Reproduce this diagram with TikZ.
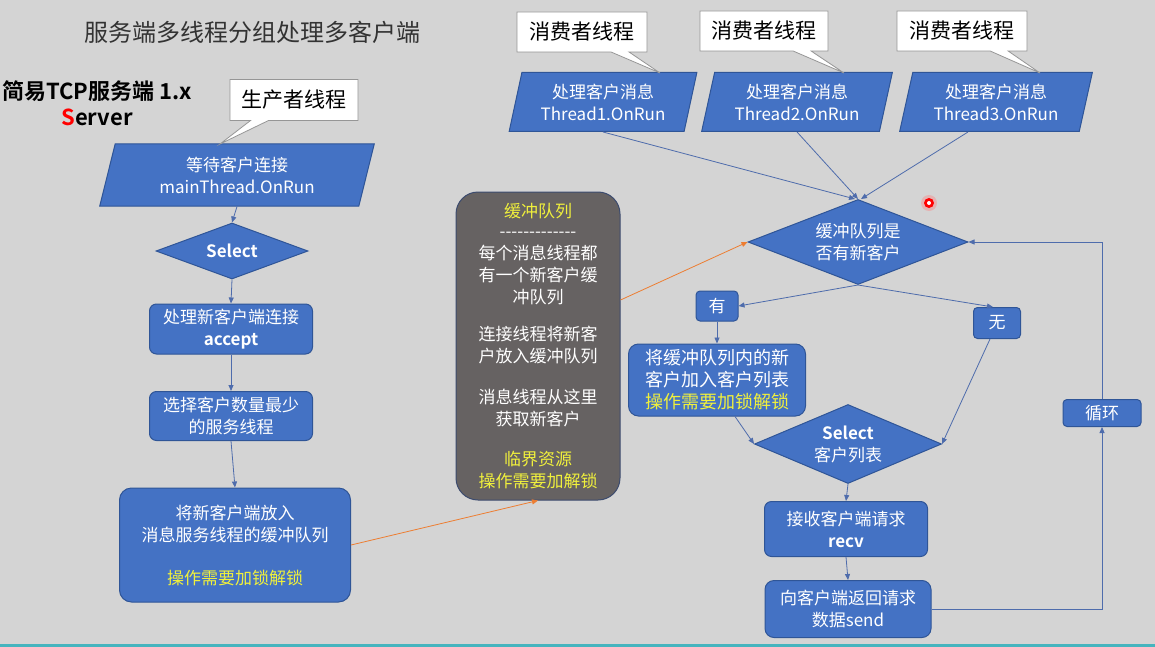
\documentclass[tikz,border=0pt]{standalone}
\usepackage{fontspec}
\setmainfont{Noto Sans CJK SC}[BoldFont={Noto Sans CJK SC Bold}]
\usetikzlibrary{shapes.geometric,shapes.callouts,arrows.meta}
\definecolor{bg}{RGB}{212,212,212}
\definecolor{blu}{RGB}{68,114,196}
\definecolor{bdr}{RGB}{47,85,151}
\definecolor{lnc}{RGB}{78,108,172}
\definecolor{orng}{RGB}{237,125,49}
\definecolor{ylw}{RGB}{240,240,60}
\definecolor{gbox}{RGB}{102,98,98}
\definecolor{gbdr}{RGB}{60,75,110}
\definecolor{cgray}{RGB}{150,150,150}
\definecolor{teal2}{RGB}{70,180,190}
\newcommand{\fsz}[1]{\fontsize{#1pt}{22pt}\selectfont}
\begin{document}
\begin{tikzpicture}[x=1pt,y=-1pt,
  box/.style={draw=bdr, line width=1pt, fill=blu, rounded corners=7pt, text=white, align=center, inner sep=0pt, font=\fsz{17}},
  para/.style={trapezium, trapezium left angle=75, trapezium right angle=105, trapezium stretches=true, draw=bdr, line width=1pt, fill=blu, text=white, align=center, inner sep=0pt, font=\fsz{17}},
  dia/.style={diamond, draw=bdr, line width=1pt, fill=blu, text=white, align=center, inner sep=0pt, font=\fsz{17}},
  call/.style={rectangle callout, draw=cgray, line width=0.8pt, fill=white, text=black, font=\fsz{21}, callout pointer width=18pt, inner sep=0pt},
  arr/.style={draw=lnc, line width=0.8pt, -{Triangle[width=5pt,length=6pt]}},
  oarr/.style={draw=orng, line width=0.8pt, -{Triangle[width=5pt,length=6pt]}}
]
\fill[bg] (0,0) rectangle (1155,647);
\useasboundingbox (0,0) rectangle (1155,647);
\fill[teal2] (0,644) rectangle (1155,647);

% titles
\node[font=\fsz{24}, text=black!80] (title) at (252,32) {服务端多线程分组处理多客户端};
\node[font=\bfseries\fsz{22}] (lt1) at (97,91) {简易TCP服务端 1.x};
\node[font=\bfseries\fsz{22}] (lt2) at (97,117) {{\color{red}S}erver};

% left column
\node[para, minimum width=275pt, minimum height=62pt] (p0) at (237,175) {等待客户连接\\mainThread.OnRun};
\coordinate (t0) at (220,144);
\node[call, minimum width=128pt, minimum height=41pt, callout absolute pointer={(t0)}] (cp) at (294,100) {生产者线程};
\node[dia, minimum width=152pt, minimum height=56pt, aspect=2.7, font=\bfseries\fsz{17}] (s0) at (232,251) {Select};
\node[box, minimum width=163pt, minimum height=50pt] (b1) at (231,329) {处理新客户端连接\\\textbf{accept}};
\node[box, minimum width=163pt, minimum height=49pt] (b2) at (231,416) {选择客户数量最少\\的服务线程};
\node[box, minimum width=231pt, minimum height=114pt, rounded corners=12pt] (b3) at (235,545) {将新客户端放入\\消息服务线程的缓冲队列\\[21pt]{\color{ylw}操作需要加锁解锁}};

% gray buffer box
\node[draw=gbdr, line width=1pt, fill=gbox, rounded corners=22pt, minimum width=164pt, minimum height=308pt, text=white, align=center, inner sep=0pt, font=\fsz{17}] (g) at (538,346)
 {{\color{ylw}缓冲队列}\\[-2pt]
  -{}-{}-{}-{}-{}-{}-{}-{}-{}-{}-{}-{}-\\
  每个消息线程都\\有一个新客户缓\\冲队列\\[15pt]
  连接线程将新客\\户放入缓冲队列\\[19pt]
  消息线程从这里\\获取新客户\\[18pt]
  {\color{ylw}临界资源}\\{\color{ylw}操作需要加解锁}};

% consumer threads
\node[para, minimum width=188pt, minimum height=59pt] (p1) at (603,102) {处理客户消息\\Thread1.OnRun};
\node[para, minimum width=191pt, minimum height=59pt] (p2) at (797,102) {处理客户消息\\Thread2.OnRun};
\node[para, minimum width=193pt, minimum height=59pt] (p3) at (996,102) {处理客户消息\\Thread3.OnRun};
\coordinate (t1) at (660,73);
\coordinate (t2) at (844,73);
\coordinate (t3) at (1040,73);
\node[call, minimum width=130pt, minimum height=40pt, callout absolute pointer={(t1)}] (c1) at (582,32) {消费者线程};
\node[call, minimum width=128pt, minimum height=40pt, callout absolute pointer={(t2)}] (c2) at (764,31) {消费者线程};
\node[call, minimum width=130pt, minimum height=40pt, callout absolute pointer={(t3)}] (c3) at (962,31) {消费者线程};

% right flow
\node[dia, minimum width=220pt, minimum height=85pt, aspect=2.6] (d1) at (858,242) {缓冲队列是\\否有新客户};
\node[box, minimum width=42pt, minimum height=30pt, rounded corners=4pt] (you) at (717,306) {有};
\node[box, minimum width=47pt, minimum height=31pt, rounded corners=4pt] (wu) at (997,323) {无};
\node[box, minimum width=177pt, minimum height=72pt, rounded corners=10pt, font=\fsz{18}] (b4) at (717,380) {将缓冲队列内的新\\客户加入客户列表\\{\color{ylw}操作需要加锁解锁}};
\node[dia, minimum width=187pt, minimum height=79pt, aspect=2.37] (s1) at (848,444) {\textbf{Select}\\客户列表};
\node[box, minimum width=163pt, minimum height=55pt] (b5) at (846,529) {接收客户端请求\\\textbf{recv}};
\node[box, minimum width=166pt, minimum height=57pt, rounded corners=9pt] (b6) at (848,609) {向客户端返回请求\\数据send};
\node[box, minimum width=78pt, minimum height=27pt, rounded corners=4pt] (loop) at (1102,413) {循环};

% laser pointer dot
\fill[red!50, opacity=0.4] (929,203) circle (8pt);
\fill[red] (929,203) circle (5pt);
\fill[white] (929,203) circle (2pt);

% connectors left
\draw[arr] (p0.south) -- (s0.north);
\draw[arr] (s0.south) -- (b1.north);
\draw[arr] (b1.south) -- (b2.north);
\draw[arr] (b2.south) -- (b3.north);
\draw[oarr] (b3.east) -- (g.south);
\draw[oarr] ([yshift=46pt]g.east) -- (d1.west);

% connectors right
\draw[arr] (p1.south) -- ([xshift=-3pt]d1.north);
\draw[arr] (p2.south) -- (d1.north);
\draw[arr] ([xshift=-28pt]p3.south) -- ([xshift=3pt]d1.north);
\draw[arr] (d1.south) -- (you.east);
\draw[arr] (d1.south) -- ([xshift=-4pt]wu.north);
\draw[arr] (you.south) -- (b4.north);
\draw[arr] ([xshift=18pt]b4.south) -- (s1.west);
\draw[arr] ([xshift=-7pt]wu.south) -- (s1.east);
\draw[arr] (s1.south) -- (b5.north);
\draw[arr] (b5.south) -- (b6.north);
\draw[arr] (b6.east) -| (loop.south);
\draw[arr] (loop.north) |- (d1.east);
\end{tikzpicture}
\end{document}
